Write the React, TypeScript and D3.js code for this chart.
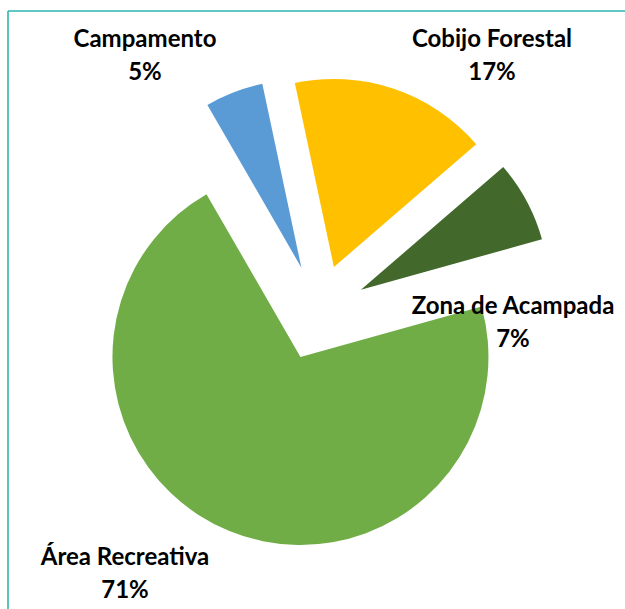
import React from 'react';
import * as d3 from 'd3';

// slice data, in drawing order (clockwise from the first slice angle)
const categories = ['Campamento', 'Cobijo Forestal', 'Zona de Acampada', 'Área Recreativa'];
const shares = [5, 17, 7, 71];
const pctLabels = ['5%', '17%', '7%', '71%'];
const colors = ['#5B9BD5', '#FFC000', '#43682B', '#70AD47'];

// where each data label sits (center x, first baseline)
const labelSpots: [number, number][] = [
    [145, 47],
    [492, 47],
    [513, 314],
    [125, 565],
];

export default function App() {
    const width = 625;
    const height = 609;
    const cx = 318.6;
    const cy = 312.5;
    const radius = 188;
    const explode = 48;
    const firstAngle = (-30 * Math.PI) / 180;

    const pie = d3.pie<number>()
        .sort(null)
        .value(d => d)
        .startAngle(firstAngle)
        .endAngle(firstAngle + 2 * Math.PI);

    const arc = d3.arc<d3.PieArcDatum<number>>()
        .innerRadius(0)
        .outerRadius(radius);

    const slices = pie(shares);

    return (
        <svg width={width} height={height}
            style={{ position: 'absolute', left: 0, top: 0, background: '#fff' }}>
            {/* frame */}
            <line x1={8} y1={11} x2={width} y2={11} stroke="#2BB6AB" strokeWidth={1.6} />
            <line x1={8} y1={11} x2={8} y2={height} stroke="#2BB6AB" strokeWidth={1.6} />

            <g transform={`translate(${cx}, ${cy})`}>
                {slices.map((s, i) => {
                    const mid = (s.startAngle + s.endAngle) / 2;
                    const dx = Math.sin(mid) * explode;
                    const dy = -Math.cos(mid) * explode;
                    return (
                        <path key={categories[i]}
                            d={arc(s) || ''}
                            transform={`translate(${dx}, ${dy})`}
                            fill={colors[i]} />
                    );
                })}
            </g>

            <g fontFamily="Lato, 'Open Sans', sans-serif" fontWeight="bold" fontSize={24}
                fill="#000" textAnchor="middle">
                {categories.map((c, i) => (
                    <text key={c} x={labelSpots[i][0]} y={labelSpots[i][1]}>
                        <tspan x={labelSpots[i][0]}>{c}</tspan>
                        <tspan x={labelSpots[i][0]} dy={33}>{pctLabels[i]}</tspan>
                    </text>
                ))}
            </g>
        </svg>
    );
}
